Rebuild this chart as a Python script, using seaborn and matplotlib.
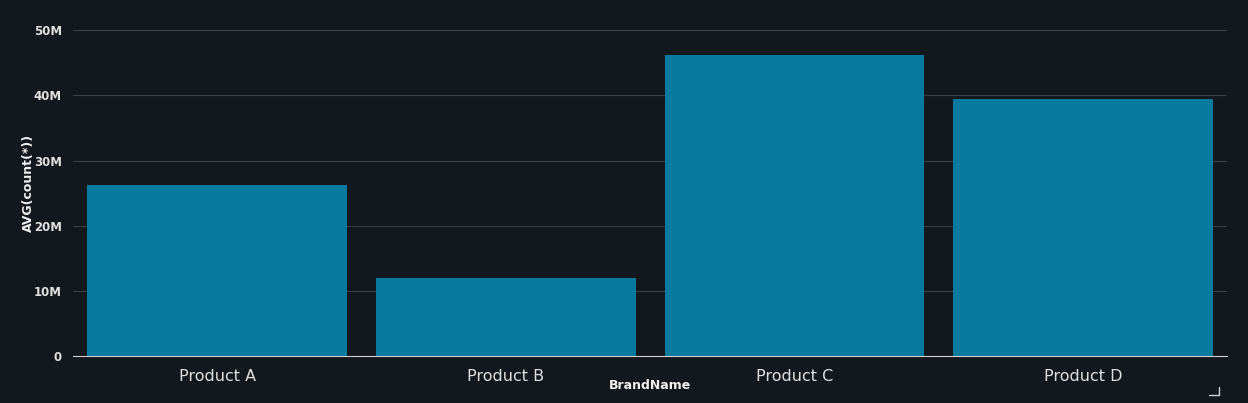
import matplotlib
matplotlib.use('Agg')
import matplotlib.pyplot as plt
import seaborn as sns
import pandas as pd
from matplotlib.ticker import FuncFormatter

brands = ['Product A', 'Product B', 'Product C', 'Product D']
avg_count = [26.2e6, 12.0e6, 46.2e6, 39.4e6]

bg = '#13171e'
sns.set_style("dark")
plt.rcParams['font.family'] = ['DejaVu Sans']

df = pd.DataFrame({'BrandName': brands, 'AVG(count(*))': avg_count})

fig = plt.figure(figsize=(12.48, 4.03), dpi=100, facecolor=bg)
ax = fig.add_axes([0.0585, 0.1166, 0.925, 0.86], facecolor=bg)
sns.barplot(data=df, x='BrandName', y='AVG(count(*))', color='#087a9e',
            saturation=1, width=0.9, linewidth=0, edgecolor='none', ax=ax, zorder=2)

ax.set_xlim(-0.5, 3.5)
ax.set_ylim(0, 53.2e6)
ax.set_yticks([0, 10e6, 20e6, 30e6, 40e6, 50e6])
ax.yaxis.set_major_formatter(FuncFormatter(lambda v, p: '0' if v == 0 else f'{int(v/1e6)}M'))
ax.grid(True, axis='y', color='#3a3e45', linewidth=0.8, zorder=0)
ax.grid(False, axis='x')
for s in ['top', 'right', 'left']:
    ax.spines[s].set_visible(False)
ax.spines['bottom'].set_color('#d0d0d0')
ax.tick_params(axis='y', colors='#e0e0e0', labelsize=8.5, length=0, pad=8)
ax.tick_params(axis='x', colors='#e0e0e0', labelsize=11.5, length=0, pad=9)
for t in ax.get_yticklabels():
    t.set_fontweight('bold')
ax.set_xlabel('BrandName', color='#f0f0f0', fontsize=9, fontweight='bold', labelpad=-3)
ax.set_ylabel('AVG(count(*))', color='#f0f0f0', fontsize=9, fontweight='bold', labelpad=-1)

# corner mark
fig.lines.append(plt.Line2D([0.9765, 0.9765, 0.969], [0.04, 0.02, 0.02],
                            transform=fig.transFigure, color='#d0d0d0', linewidth=1))

fig.savefig('out.png', dpi=100, facecolor=bg)
